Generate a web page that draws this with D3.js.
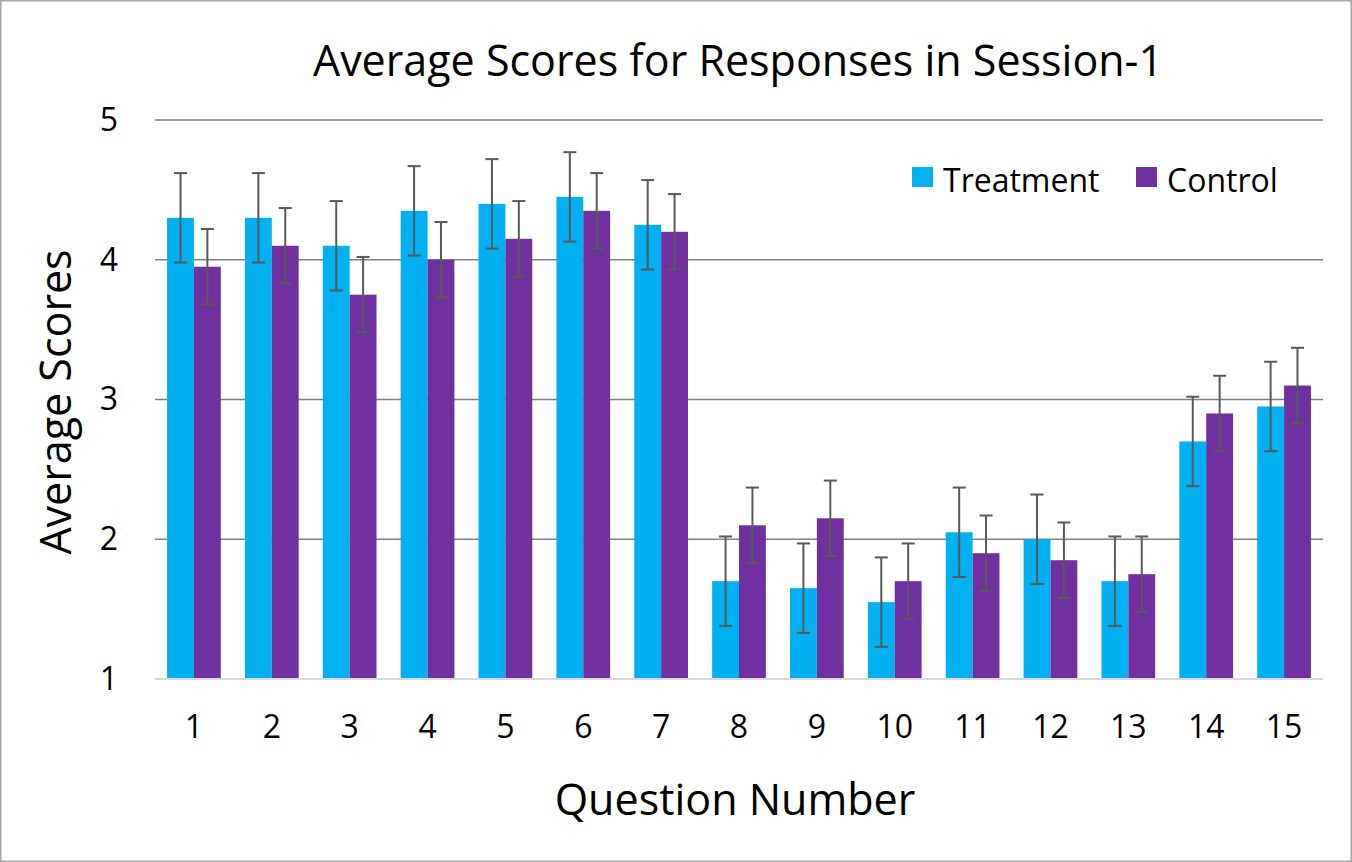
<!DOCTYPE html>
<html>
<head>
<meta charset="utf-8">
<script src="https://cdn.jsdelivr.net/npm/d3@7"></script>
<style>
  body { margin: 0; background: #fff; }
  text { font-family: "Open Sans", sans-serif; fill: #000; }
</style>
</head>
<body>
<div id="chart"></div>
<script>
// data
var questions = ['1','2','3','4','5','6','7','8','9','10','11','12','13','14','15'];
var treatment = [4.3, 4.3, 4.1, 4.35, 4.4, 4.45, 4.25, 1.7, 1.65, 1.55, 2.05, 2.0, 1.7, 2.7, 2.95];
var control   = [3.95, 4.1, 3.75, 4.0, 4.15, 4.35, 4.2, 2.1, 2.15, 1.7, 1.9, 1.85, 1.75, 2.9, 3.1];
var treatment_err = [0.32, 0.32, 0.32, 0.32, 0.32, 0.32, 0.32, 0.32, 0.32, 0.32, 0.32, 0.32, 0.32, 0.32, 0.32];
var control_err   = [0.27, 0.27, 0.27, 0.27, 0.27, 0.27, 0.27, 0.27, 0.27, 0.27, 0.27, 0.27, 0.27, 0.27, 0.27];
var y_ticks = [1, 2, 3, 4, 5];
var series_names = ['Treatment', 'Control'];
var series_colors = ['#00b0f0', '#7030a0'];

var svg_width = 1352;
var svg_height = 862;

var svg = d3.select('#chart')
  .append('svg')
  .attr('width', svg_width)
  .attr('height', svg_height);

// border
svg.append('rect')
  .attr('x', 0.75).attr('y', 0.75)
  .attr('width', svg_width - 1.5).attr('height', svg_height - 1.5)
  .attr('fill', '#fff')
  .attr('stroke', '#a6a6a6')
  .attr('stroke-width', 1.5);

var plot_left = 155, plot_right = 1323, plot_top = 120, plot_bottom = 679;

var x = d3.scaleBand()
  .domain(questions)
  .range([plot_left, plot_right])
  .paddingInner(0.31)
  .paddingOuter(0.155);

var x_inner = d3.scaleBand()
  .domain(series_names)
  .range([0, x.bandwidth()]);

var y = d3.scaleLinear()
  .domain([1, 5])
  .range([plot_bottom, plot_top]);

// gridlines
svg.append('g')
  .selectAll('line')
  .data(y_ticks.filter(function(d){ return d > 1; }))
  .enter()
  .append('line')
  .attr('x1', plot_left).attr('x2', plot_right)
  .attr('y1', function(d){ return y(d); })
  .attr('y2', function(d){ return y(d); })
  .attr('stroke', '#808080')
  .attr('stroke-width', 1.5);

// one record per bar
var flat = [];
questions.forEach(function(q, i){
  flat.push({q: q, name: 'Treatment', value: treatment[i], err: treatment_err[i], color: series_colors[0]});
  flat.push({q: q, name: 'Control', value: control[i], err: control_err[i], color: series_colors[1]});
});

// bars
svg.append('g')
  .selectAll('rect')
  .data(flat)
  .enter()
  .append('rect')
  .attr('x', function(d){ return x(d.q) + x_inner(d.name); })
  .attr('width', x_inner.bandwidth())
  .attr('y', function(d){ return y(d.value); })
  .attr('height', function(d){ return y(1) - y(d.value); })
  .attr('fill', function(d){ return d.color; });

// bottom axis line
svg.append('line')
  .attr('x1', plot_left).attr('x2', plot_right)
  .attr('y1', y(1)).attr('y2', y(1))
  .attr('stroke', '#d9d9d9')
  .attr('stroke-width', 2);

// error bars
var err_g = svg.append('g')
  .attr('stroke', '#595959')
  .attr('stroke-width', 2);

var cap = 6.5;
flat.forEach(function(d){
  var cx = x(d.q) + x_inner(d.name) + x_inner.bandwidth() / 2;
  var y_hi = y(d.value + d.err), y_lo = y(d.value - d.err);
  err_g.append('line').attr('x1', cx).attr('x2', cx).attr('y1', y_hi).attr('y2', y_lo);
  err_g.append('line').attr('x1', cx - cap).attr('x2', cx + cap).attr('y1', y_hi).attr('y2', y_hi);
  err_g.append('line').attr('x1', cx - cap).attr('x2', cx + cap).attr('y1', y_lo).attr('y2', y_lo);
});

// y axis
var y_axis = svg.append('g')
  .attr('transform', 'translate(' + plot_left + ',0)')
  .call(d3.axisLeft(y).tickValues(y_ticks).tickSize(0).tickPadding(37).tickFormat(d3.format('d')));
y_axis.select('.domain').remove();
y_axis.selectAll('text')
  .style('font-family', '"Open Sans", sans-serif')
  .style('font-size', '32px')
  .attr('fill', '#000');

// x axis
var x_axis = svg.append('g')
  .attr('transform', 'translate(0,' + plot_bottom + ')')
  .call(d3.axisBottom(x).tickSize(0).tickPadding(36));
x_axis.select('.domain').remove();
x_axis.selectAll('text')
  .style('font-family', '"Open Sans", sans-serif')
  .style('font-size', '32px')
  .attr('fill', '#000');

// title
svg.append('text')
  .attr('x', 738)
  .attr('y', 76)
  .attr('text-anchor', 'middle')
  .style('font-size', '43px')
  .text('Average Scores for Responses in Session-1');

// axis titles
svg.append('text')
  .attr('x', 735)
  .attr('y', 815)
  .attr('text-anchor', 'middle')
  .style('font-size', '43px')
  .text('Question Number');

svg.append('text')
  .attr('transform', 'translate(71,402) rotate(-90)')
  .attr('text-anchor', 'middle')
  .style('font-size', '43px')
  .text('Average Scores');

// legend
var legend_x = [912, 1136];
var legend = svg.append('g')
  .selectAll('g')
  .data(series_names)
  .enter()
  .append('g')
  .attr('transform', function(d, i){ return 'translate(' + legend_x[i] + ',167)'; });

legend.append('rect')
  .attr('width', 21).attr('height', 20)
  .attr('fill', function(d, i){ return series_colors[i]; });

legend.append('text')
  .attr('x', 31)
  .attr('y', 25)
  .style('font-size', '32px')
  .text(function(d){ return d; });
</script>
</body>
</html>
